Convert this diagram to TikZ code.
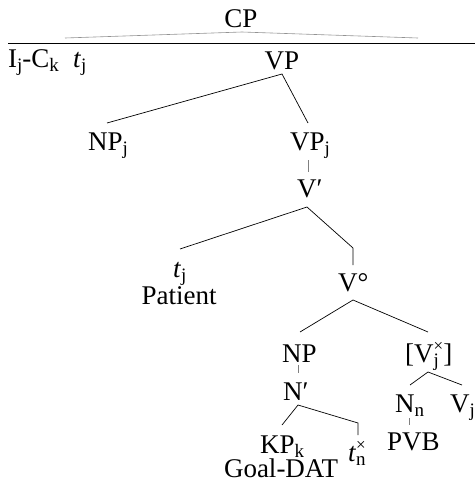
\documentclass[tikz,border=0pt]{standalone}
\usepackage{fontspec}
\setmainfont{Liberation Serif}
% subscript, and a subscript with a superscript stacked above it
\newcommand\sub[1]{\raisebox{-4pt}{\fontsize{19}{19}\selectfont #1}}
\newcommand\subsup[2]{\rlap{\sub{#1}}\raisebox{11pt}{\fontsize{17}{17}\selectfont #2}}
\begin{document}
\begin{tikzpicture}[x=1pt,y=-1pt,
  lbl/.style={inner sep=0pt,anchor=base,font=\fontsize{27}{30}\selectfont},
  lblw/.style={lbl,anchor=base west},
  branch/.style={line width=0.7pt,black},
  tickline/.style={line width=0.7pt,gray},
  roof/.style={line width=0.6pt,gray!85}]
\useasboundingbox (0,0) rectangle (475,482);

% top: CP with its roof and the rule below
\node[lbl] (cp) at (241,27) {CP};
\coordinate (roofL) at (65,38);
\coordinate (roofT) at (242,32);
\coordinate (roofR) at (418,38);
\draw[roof] (roofL) -- (roofT) -- (roofR);
\coordinate (ruleL) at (8,43);
\coordinate (ruleR) at (475,43);
\draw[line width=1pt] (ruleL) -- (ruleR);

\node[lblw] (ic) at (8,67) {I\sub{j}-C\sub{k}};
\node[lblw] (tjtop) at (73,67) {\textit{t}\sub{j}};
\node[lbl] (vp) at (282,69) {VP};

% VP branches
\node[lblw] (npj) at (88,150) {NP\sub{j}};
\node[lblw] (vpj) at (290,150) {VP\sub{j}};
\coordinate (vpA) at (282,74);
\coordinate (npjT) at (107,123);
\coordinate (vpjT) at (308,123);
\draw[branch] (npjT) -- (vpA) -- (vpjT);

\node[lblw] (vbar) at (297,197) {V′};
\coordinate (t1a) at (308,160);
\coordinate (t1b) at (308,172);
\draw[tickline] (t1a) -- (t1b);

% V' branches
\node[lblw] (tj) at (173,277) {\textit{t}\sub{j}};
\node[lbl] (patient) at (179,304) {Patient};
\node[lblw] (vdeg) at (338,291) {V°};
\coordinate (vbarA) at (307,207);
\coordinate (tjT) at (180,249);
\coordinate (vbend) at (353,248);
\coordinate (vdegT) at (353,265);
\draw[branch] (tjT) -- (vbarA) -- (vbend) -- (vdegT);

% V° branches
\node[lblw] (np) at (282,362) {NP};
\node[lblw] (vjx) at (405,362) {[V\subsup{j}{×}]};
\coordinate (vdegA) at (353,300);
\coordinate (npT) at (300,332);
\coordinate (vjxT) at (428,332);
\draw[branch] (npT) -- (vdegA) -- (vjxT);

\node[lblw] (nbar) at (283,400) {N′};
\coordinate (t2a) at (298,365);
\coordinate (t2b) at (298,373);
\draw[tickline] (t2a) -- (t2b);

% N' branches
\node[lblw] (kp) at (260,453) {KP\sub{k}};
\node[lbl] (goal) at (281,477) {Goal-DAT};
\node[lblw] (tn) at (348,461) {\textit{t}\subsup{n}{×}};
\coordinate (nbarA) at (298,405);
\coordinate (kpT) at (282,425);
\coordinate (tnbend) at (358,423);
\coordinate (tnT) at (358,435);
\draw[branch] (kpT) -- (nbarA) -- (tnbend) -- (tnT);

% [V] branches
\node[lblw] (nn) at (395,412) {N\sub{n}};
\node[lblw] (vj) at (450,412) {V\sub{j}};
\coordinate (vjxA) at (428,372);
\coordinate (nnT) at (410,385);
\coordinate (vjT) at (462,385);
\draw[branch] (nnT) -- (vjxA) -- (vjT);

\node[lblw] (pvb) at (387,450) {PVB};
\coordinate (t3a) at (409,418);
\coordinate (t3b) at (409,425);
\draw[tickline] (t3a) -- (t3b);
\end{tikzpicture}
\end{document}
